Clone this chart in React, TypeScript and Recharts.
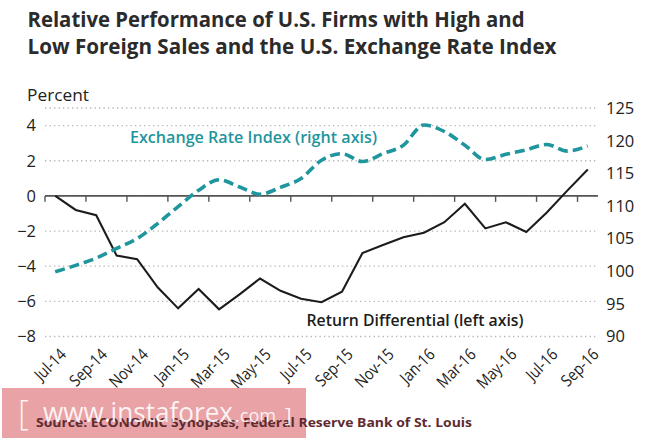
import React from 'react';
import {
  ComposedChart,
  Line,
  XAxis,
  YAxis,
  CartesianGrid,
  ReferenceLine,
} from 'recharts';

const categories = [
  'Jul-14', 'Aug-14', 'Sep-14', 'Oct-14', 'Nov-14', 'Dec-14',
  'Jan-15', 'Feb-15', 'Mar-15', 'Apr-15', 'May-15', 'Jun-15',
  'Jul-15', 'Aug-15', 'Sep-15', 'Oct-15', 'Nov-15', 'Dec-15',
  'Jan-16', 'Feb-16', 'Mar-16', 'Apr-16', 'May-16', 'Jun-16',
  'Jul-16', 'Aug-16', 'Sep-16',
];

const returnDifferential = [
  0, -0.8, -1.1, -3.4, -3.6, -5.2, -6.4, -5.3, -6.45, -5.6, -4.7, -5.4,
  -5.85, -6.05, -5.45, -3.25, -2.8, -2.35, -2.1, -1.5, -0.45, -1.85, -1.5,
  -2.05, -0.95, 0.3, 1.5,
];

const exchangeRateIndex = [
  99.9, 100.9, 102.0, 103.5, 105.0, 107.3, 109.9, 112.4, 114.0, 112.9, 111.8,
  112.85, 114.2, 117.0, 118.0, 116.8, 118.0, 119.3, 122.4, 121.4, 119.3,
  117.1, 117.9, 118.6, 119.4, 118.4, 119.2,
];

const leftTicks = [-8, -6, -4, -2, 0, 2, 4];
const rightTicks = [90, 95, 100, 105, 110, 115, 120, 125];
const labelIndexes = [0, 2, 4, 6, 8, 10, 12, 14, 16, 18, 20, 22, 24, 26];
const tickBoundaries = [-0.5, 1.5, 3.5, 5.5, 7.5, 9.5, 11.5, 13.5, 15.5, 17.5, 19.5, 21.5, 23.5, 25.5];

const data = categories.map((c, i) => ({
  i,
  month: c,
  rd: returnDifferential[i],
  er: exchangeRateIndex[i],
}));

const FONT = "'Open Sans', 'Noto Sans', 'DejaVu Sans', sans-serif";
const TEAL = '#1f959e';

const fmtMinus = (v: number) => (v < 0 ? '\u2212' + Math.abs(v) : String(v));

const XTick = (props: any) => {
  const { x, y, payload } = props;
  const label = categories[payload.value] ?? '';
  return (
    <g transform={`translate(${x + 12},${y + 19})`}>
      <text
        textAnchor="end"
        transform="rotate(-45) scale(0.86,1)"
        fontFamily={FONT}
        fontSize={16.5}
        fill="#222"
      >
        {label}
      </text>
    </g>
  );
};

export default function App() {
  return (
    <div
      style={{
        position: 'absolute',
        left: 0,
        top: 0,
        width: 665,
        height: 441,
        background: '#fff',
        overflow: 'hidden',
      }}
    >
      <ComposedChart
        width={665}
        height={441}
        data={data}
        margin={{ top: 108, right: 7, bottom: 44.5, left: 0 }}
      >
        <CartesianGrid
          yAxisId="left"
          vertical={false}
          stroke="#b5b5b5"
          strokeWidth={1.3}
          strokeDasharray="1.3 3.2"
        />
        <XAxis
          dataKey="i"
          type="number"
          domain={[-0.5, 26.5]}
          ticks={labelIndexes}
          interval={0}
          axisLine={false}
          tickLine={false}
          tickSize={0}
          tickMargin={0}
          height={60}
          tick={<XTick />}
        />
        <YAxis
          yAxisId="left"
          orientation="left"
          domain={[-8, 5]}
          ticks={leftTicks}
          interval={0}
          width={45}
          axisLine={false}
          tickLine={false}
          tickSize={0}
          tickMargin={9}
          tickFormatter={fmtMinus}
          tick={{ fill: '#222', fontSize: 16.5, fontFamily: FONT }}
        />
        <YAxis
          yAxisId="right"
          orientation="right"
          domain={[90, 125]}
          ticks={rightTicks}
          interval={0}
          width={60}
          axisLine={false}
          tickLine={false}
          tickSize={0}
          tickMargin={8}
          tick={{ fill: '#222', fontSize: 16.5, fontFamily: FONT }}
        />
        <ReferenceLine yAxisId="left" y={0} stroke="#555" strokeWidth={1.6} />
        {tickBoundaries.map((b) => (
          <ReferenceLine
            key={b}
            yAxisId="left"
            segment={[
              { x: b, y: 0 },
              { x: b, y: -0.34 },
            ]}
            stroke="#555"
            strokeWidth={1.4}
            ifOverflow="visible"
          />
        ))}
        <Line
          yAxisId="left"
          dataKey="rd"
          type="linear"
          stroke="#1c1c1c"
          strokeWidth={2.1}
          dot={false}
          activeDot={false}
          isAnimationActive={false}
        />
        <Line
          yAxisId="right"
          dataKey="er"
          type="monotone"
          stroke={TEAL}
          strokeWidth={3.6}
          strokeDasharray="10 5"
          dot={false}
          activeDot={false}
          isAnimationActive={false}
        />
      </ComposedChart>
      <svg
        width={665}
        height={441}
        style={{ position: 'absolute', left: 0, top: 0, pointerEvents: 'none' }}
      >
        <text x={27.5} y={27} fontFamily={FONT} fontWeight={700} fontSize={21.5} fill="#2b2b2b" textLength={497} lengthAdjust="spacingAndGlyphs">
          Relative Performance of U.S. Firms with High and
        </text>
        <text x={27.5} y={53.5} fontFamily={FONT} fontWeight={700} fontSize={21.5} fill="#2b2b2b" textLength={529} lengthAdjust="spacingAndGlyphs">
          Low Foreign Sales and the U.S. Exchange Rate Index
        </text>
        <text x={27} y={100.5} fontFamily={FONT} fontSize={17} fill="#222" textLength={62} lengthAdjust="spacingAndGlyphs">
          Percent
        </text>
        <text x={130} y={143.3} fontFamily={FONT} fontWeight={600} fontSize={16.5} fill={TEAL} textLength={247} lengthAdjust="spacingAndGlyphs">
          Exchange Rate Index (right axis)
        </text>
        <text x={306.5} y={326} fontFamily={FONT} fontWeight={600} fontSize={16.5} fill="#1c1c1c" textLength={217} lengthAdjust="spacingAndGlyphs">
          Return Differential (left axis)
        </text>
        <rect x={2} y={388} width={304} height={50} fill="#e9a2a6" />
        <text x={36} y={426.5} fontFamily={FONT} fontWeight={700} fontSize={13} fill="#5e2b30" textLength={436} lengthAdjust="spacingAndGlyphs">
          Source: ECONOMIC Synopses, Federal Reserve Bank of St. Louis
        </text>
        <g fill="#ffffff" fillOpacity={0.88} fontFamily={FONT}>
          <text x={18} y={425} fontSize={34} fontWeight={300}>[</text>
          <text x={43} y={421.5} fontSize={28} textLength={190} lengthAdjust="spacingAndGlyphs">www.instaforex</text>
          <text x={235} y={421.5} fontSize={19} textLength={41} lengthAdjust="spacingAndGlyphs">.com</text>
          <text x={285} y={421.5} fontSize={20}>]</text>
        </g>
      </svg>
    </div>
  );
}
